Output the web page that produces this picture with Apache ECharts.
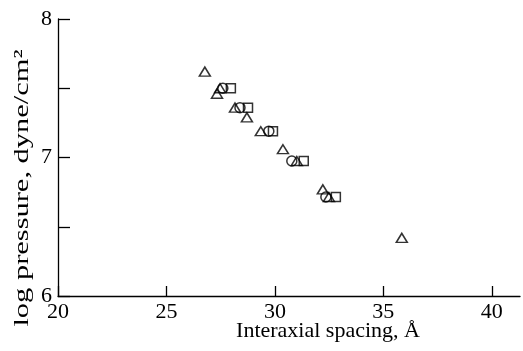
<!DOCTYPE html>
<html><head><meta charset="utf-8">
<script src="https://cdn.jsdelivr.net/npm/echarts@6/dist/echarts.min.js"></script>
<style>html,body{margin:0;padding:0;background:#fff}#c{width:523px;height:351px}</style>
</head><body><div id="c"></div>
<script>
const triX = [26.77, 27.33, 27.47, 28.16, 28.71, 29.35, 30.37, 31.01, 32.21, 32.49, 35.85];
const triY = [7.62, 7.46, 7.50, 7.36, 7.29, 7.19, 7.06, 6.975, 6.77, 6.715, 6.42];
const circX = [27.6, 28.39, 29.72, 30.78, 32.35];
const circY = [7.50, 7.36, 7.19, 6.975, 6.715];
const sqX = [27.97, 28.76, 29.91, 31.33, 32.81];
const sqY = [7.50, 7.36, 7.19, 6.975, 6.715];
const xTicks = [20, 25, 30, 35, 40];
const yTicks = [6, 6.5, 7, 7.5, 8];
const yLabels = [6, 7, 8];
const xTitle = 'Interaxial spacing, Å';
const yTitle = 'log pressure, dyne/cm²';

const pairs = (xs, ys) => xs.map((x, i) => [x, ys[i]]);
const font = 'Liberation Serif';
const mk = (name, symbol, size, xs, ys) => ({
  name, type: 'scatter', symbol, symbolSize: size, data: pairs(xs, ys),
  itemStyle: { color: 'rgba(0,0,0,0)', borderColor: '#000', borderWidth: 1.5 },
  emphasis: { disabled: true }
});
const chart = echarts.init(document.getElementById('c'), null, { renderer: 'canvas' });
chart.setOption({
  animation: false,
  backgroundColor: '#fff',
  grid: { left: 58, right: 3, top: 19, bottom: 55, outerBoundsMode: 'none', containLabel: false },
  xAxis: {
    type: 'value', min: 20, max: 41.3,
    splitLine: { show: false },
    axisLine: { lineStyle: { color: '#000', width: 1.3 } },
    axisTick: { inside: true, length: 10, customValues: xTicks, lineStyle: { color: '#000', width: 1.3 } },
    axisLabel: { customValues: xTicks, color: '#000', fontFamily: font, fontSize: 22, margin: 5 },
    name: xTitle, nameLocation: 'middle', nameGap: 24, nameMoveOverlap: false,
    nameTextStyle: { color: '#000', fontFamily: font, fontSize: 22, padding: [0, 0, 0, 78] }
  },
  yAxis: {
    type: 'value', min: 6, max: 8,
    splitLine: { show: false },
    axisLine: { lineStyle: { color: '#000', width: 1.3 } },
    axisTick: { inside: true, length: 12, customValues: yTicks, lineStyle: { color: '#000', width: 1.3 } },
    axisLabel: { customValues: yLabels, color: '#000', fontFamily: font, fontSize: 22, margin: 6 }
  },
  graphic: [{
    type: 'text', x: 22, y: 188, rotation: Math.PI / 2, scaleX: 1.45,
    style: { text: yTitle, font: '21px "Liberation Serif"', fill: '#000', align: 'center', verticalAlign: 'middle' }
  }],
  series: [
    mk('triangle', 'triangle', [11, 9], triX, triY),
    mk('circle', 'circle', 10, circX, circY),
    mk('square', 'rect', 9, sqX, sqY)
  ]
});
</script></body></html>
